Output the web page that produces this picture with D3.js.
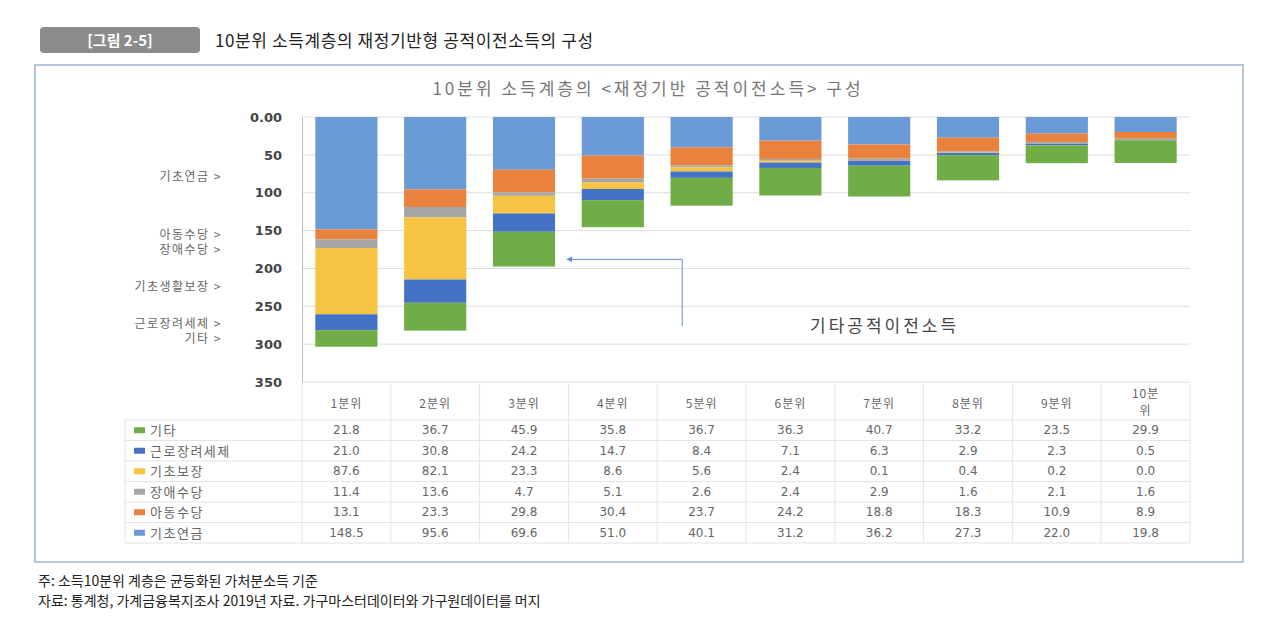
<!DOCTYPE html>
<html><head><meta charset="utf-8">
<script src="https://cdn.jsdelivr.net/npm/d3@7"></script>
<style>body{margin:0;background:#fff;font-family:"Noto Sans CJK KR","Noto Sans",sans-serif}</style>
</head><body><svg id="c" width="1280" height="627"></svg>
<script>
const categories = ['1분위','2분위','3분위','4분위','5분위','6분위','7분위','8분위','9분위','10분위'];
// stack order top -> bottom
const seriesNames = ['기초연금','아동수당','장애수당','기초보장','근로장려세제','기타'];
const seriesColors = ['#6b9bd6','#e8823c','#a6a6a6','#f6c342','#4472c4','#70ad47'];
const giChoYeonGeum = [148.5,95.6,69.6,51.0,40.1,31.2,36.2,27.3,22.0,19.8];
const aDongSuDang = [13.1,23.3,29.8,30.4,23.7,24.2,18.8,18.3,10.9,8.9];
const jangAeSuDang = [11.4,13.6,4.7,5.1,2.6,2.4,2.9,1.6,2.1,1.6];
const giChoBoJang = [87.6,82.1,23.3,8.6,5.6,2.4,0.1,0.4,0.2,0.0];
const geunRo = [21.0,30.8,24.2,14.7,8.4,7.1,6.3,2.9,2.3,0.5];
const giTa = [21.8,36.7,45.9,35.8,36.7,36.3,40.7,33.2,23.5,29.9];
const series = [giChoYeonGeum,aDongSuDang,jangAeSuDang,giChoBoJang,geunRo,giTa];
const yTicks = [0,50,100,150,200,250,300,350];
const sideLabels = [['기초연금 >',177],['아동수당 >',235],['장애수당 >',250],['기초생활보장 >',287],['근로장려세제 >',324],['기타 >',339]];

const svg = d3.select('#c');
const grey = '#666';
// header
svg.append('rect').attr('x',40).attr('y',27).attr('width',160).attr('height',26).attr('rx',4).attr('fill','#8c8c8c');
svg.append('text').attr('x',120).attr('y',46).attr('text-anchor','middle').attr('fill','#fff').attr('font-size',15).attr('font-weight',700).text('[그림 2-5]');
svg.append('text').attr('x',215).attr('y',47).attr('font-size',17).attr('fill','#222').attr('letter-spacing',0.6).text('10분위 소득계층의 재정기반형 공적이전소득의 구성');
svg.append('rect').attr('x',35).attr('y',65).attr('width',1208).attr('height',497).attr('fill','none').attr('stroke','#9fb6d6').attr('stroke-width',1.5);
svg.append('text').attr('x',648).attr('y',95).attr('text-anchor','middle').attr('font-size',17).attr('fill','#777').attr('letter-spacing',3).text('10분위 소득계층의 <재정기반 공적이전소득> 구성');

const x0 = 302, x1 = 1190;
const x = d3.scaleBand().domain(categories).range([x0,x1]).paddingInner(0.3).paddingOuter(0.15);
const y = d3.scaleLinear().domain([0,350]).range([117,382]);
const xb = d3.scaleBand().domain(categories).range([x0,x1]);

svg.append('g').selectAll('line').data(yTicks.slice(1,-1)).join('line')
  .attr('x1',x0).attr('x2',x1).attr('y1',d=>y(d)).attr('y2',d=>y(d)).attr('stroke','#ddd');
svg.append('line').attr('x1',x0).attr('x2',x1).attr('y1',y(0)).attr('y2',y(0)).attr('stroke','#ddd');

const stacked = categories.map((c,i)=>{let acc=0;return series.map((s,k)=>{const a=acc;acc+=s[i];return {c,k,a,b:acc};});}).flat();
svg.append('g').selectAll('rect').data(stacked).join('rect')
  .attr('x',d=>x(d.c)).attr('width',x.bandwidth()).attr('y',d=>y(d.a)).attr('height',d=>y(d.b)-y(d.a))
  .attr('fill',d=>seriesColors[d.k]);

const ax = svg.append('g').attr('transform',`translate(${x0},0)`).call(d3.axisLeft(y).tickValues(yTicks).tickSize(0).tickPadding(20).tickFormat(d=>d===0?'0.00':d));
ax.select('.domain').attr('stroke','#bbb');
ax.selectAll('text').attr('font-size',13).attr('font-weight',700).attr('fill','#444').attr('font-family','DejaVu Sans');

svg.append('g').selectAll('text').data(sideLabels).join('text').attr('x',222).attr('y',d=>d[1]+4)
  .attr('text-anchor','end').attr('font-size',12).attr('fill',grey).attr('letter-spacing',1.5).text(d=>d[0]);

// annotation arrow
svg.append('defs').append('marker').attr('id','ar').attr('viewBox','0 0 10 10').attr('refX',9).attr('refY',5)
  .attr('markerWidth',6).attr('markerHeight',6).attr('orient','auto').append('path').attr('d','M0,0L10,5L0,10z').attr('fill','#5b8fd0');
svg.append('path').attr('d',`M${xb('5분위')+25},${y(276)} V${y(188)} H${x(categories[2])+x.bandwidth()+12}`)
  .attr('fill','none').attr('stroke','#5b8fd0').attr('marker-end','url(#ar)');
svg.append('text').attr('x',810).attr('y',y(276)+6).attr('font-size',17).attr('fill','#444').attr('letter-spacing',3).text('기타공적이전소득');

// data table
const rowOrder = [5,4,3,2,1,0];
const rowLabels = ['기타','근로장려세제','기초보장','장애수당','아동수당','기초연금'];
const tTop = 420, rh = 20.5, tl = 125;
const tb = svg.append('g');
tb.append('line').attr('x1',x0).attr('x2',x1).attr('y1',382).attr('y2',382).attr('stroke','#ddd');
for(let r=0;r<=6;r++) tb.append('line').attr('x1',tl).attr('x2',x1).attr('y1',tTop+r*rh).attr('y2',tTop+r*rh).attr('stroke','#e3e3e3');
tb.append('line').attr('x1',tl).attr('x2',tl).attr('y1',tTop).attr('y2',tTop+6*rh).attr('stroke','#e3e3e3');
tb.selectAll('.v').data(categories.concat(['end'])).join('line').attr('x1',(d,i)=>x0+i*xb.bandwidth()).attr('x2',(d,i)=>x0+i*xb.bandwidth())
  .attr('y1',384).attr('y2',tTop+6*rh).attr('stroke','#e3e3e3');
tb.selectAll('.h').data(categories).join('text').attr('x',d=>xb(d)+xb.bandwidth()/2).attr('y',d=>d==='10분위'?398:408)
  .attr('text-anchor','middle').attr('font-size',12).attr('fill',grey).attr('letter-spacing',1).each(function(d){
    if(d==='10분위'){d3.select(this).append('tspan').text('10분').attr('x',xb(d)+xb.bandwidth()/2);
      d3.select(this).append('tspan').text('위').attr('x',xb(d)+xb.bandwidth()/2).attr('dy',17);}
    else d3.select(this).text(d);});
rowOrder.forEach((k,r)=>{
  const cy = tTop+r*rh+rh/2;
  tb.append('rect').attr('x',134).attr('y',cy-3).attr('width',11).attr('height',6).attr('fill',seriesColors[k]);
  tb.append('text').attr('x',150).attr('y',cy+5).attr('font-size',13).attr('fill',grey).attr('letter-spacing',1.5).text(rowLabels[r]);
  tb.selectAll(null).data(categories).join('text').attr('x',d=>xb(d)+xb.bandwidth()/2).attr('y',cy+4)
    .attr('text-anchor','middle').attr('font-size',12).attr('fill',grey).attr('font-family','DejaVu Sans')
    .text((d,i)=>series[k][i].toFixed(1));
});

svg.append('text').attr('x',38).attr('y',586).attr('font-size',14).attr('fill','#222').text('주: 소득10분위 계층은 균등화된 가처분소득 기준');
svg.append('text').attr('x',38).attr('y',606).attr('font-size',14).attr('fill','#222').text('자료: 통계청, 가계금융복지조사 2019년 자료. 가구마스터데이터와 가구원데이터를 머지');
</script></body></html>
